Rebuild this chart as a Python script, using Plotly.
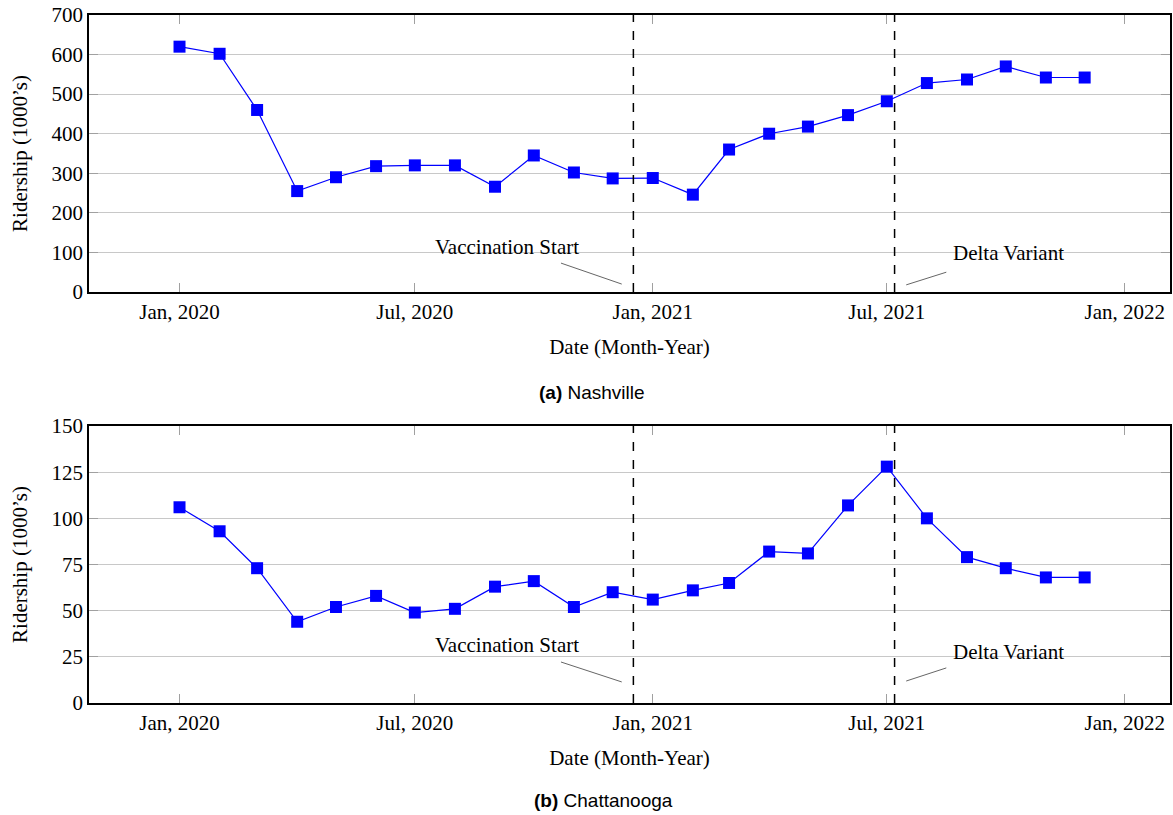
import plotly.graph_objects as go

months = [f"{y}-{m:02d}-01" for y in (2020, 2021) for m in range(1, 13)]
nashville = [620, 602, 460, 255, 290, 318, 320, 320, 266, 345, 302, 287,
             288, 246, 360, 400, 418, 447, 482, 528, 537, 570, 542, 542]
chattanooga = [106, 93, 73, 44, 52, 58, 49, 51, 63, 66, 52, 60,
               56, 61, 65, 82, 81, 107, 128, 100, 79, 73, 68, 68]

tick_vals = ["2020-01-01", "2020-07-01", "2021-01-01", "2021-07-01", "2022-01-01"]
tick_text = ["Jan, 2020", "Jul, 2020", "Jan, 2021", "Jul, 2021", "Jan, 2022"]
x_range = ["2019-10-23", "2022-02-05"]

vacc_date = "2020-12-17"
delta_date = "2021-07-07"

SERIF = "Liberation Serif, Times New Roman, serif"
SANS = "Liberation Sans, Arial, sans-serif"
BLUE = "#0000ff"

fig = go.Figure()
for vals, xa, ya in [(nashville, "x", "y"), (chattanooga, "x2", "y2")]:
    fig.add_trace(go.Scatter(
        x=months, y=vals, xaxis=xa, yaxis=ya, mode="lines+markers",
        line=dict(color=BLUE, width=1.2),
        marker=dict(symbol="square", size=12, color=BLUE),
        showlegend=False))

axis_common = dict(
    showline=True, linecolor="black", linewidth=1.5, mirror="allticks",
    ticks="inside", ticklen=9, tickcolor="#a0a0a0", tickwidth=1,
    tickfont=dict(family=SERIF, size=21, color="black"),
    zeroline=False,
)
xcommon = dict(axis_common, type="date", range=x_range, tickvals=tick_vals,
               ticktext=tick_text, showgrid=False,
               title=dict(text="Date (Month-Year)", font=dict(family=SERIF, size=21, color="black"),
                          standoff=16))
top_dom = [0.5974, 1.0]
bot_dom = [0.0, 0.4026]
ytitle = dict(text="Ridership (1000’s)", font=dict(family=SERIF, size=21, color="black"), standoff=18)

fig.update_layout(
    width=1173, height=815,
    margin=dict(l=89, r=1, t=15, b=112),
    plot_bgcolor="white", paper_bgcolor="white",
    xaxis=dict(xcommon, domain=[0, 1], anchor="y"),
    xaxis2=dict(xcommon, domain=[0, 1], anchor="y2"),
    yaxis=dict(axis_common, domain=top_dom, anchor="x", range=[0, 700],
               tickvals=[0, 100, 200, 300, 400, 500, 600, 700],
               showgrid=True, gridcolor="#c8c8c8", gridwidth=1, title=ytitle),
    yaxis2=dict(axis_common, domain=bot_dom, anchor="x2", range=[0, 150],
                tickvals=[0, 25, 50, 75, 100, 125, 150],
                showgrid=True, gridcolor="#c8c8c8", gridwidth=1, title=ytitle),
)

# event lines
for xa, ya in [("x", "y"), ("x2", "y2")]:
    for d in (vacc_date, delta_date):
        fig.add_shape(type="line", xref=xa, yref=f"{ya} domain", x0=d, x1=d, y0=0, y1=1,
                      line=dict(color="black", width=1.5, dash="dash"))

# annotations (text + connector)
ann = [
    ("x", "y", "Vaccination Start", "2020-09-10", 114, ("2020-10-22", 73), ("2020-12-08", 20)),
    ("x", "y", "Delta Variant", "2021-10-03", 99, ("2021-08-16", 50), ("2021-07-16", 18)),
    ("x2", "y2", "Vaccination Start", "2020-09-10", 31.4, ("2020-10-22", 22.2), ("2020-12-08", 11.4)),
    ("x2", "y2", "Delta Variant", "2021-10-03", 27.6, ("2021-08-16", 19), ("2021-07-16", 11.9)),
]
for xa, ya, txt, tx, ty, p0, p1 in ann:
    fig.add_annotation(xref=xa, yref=ya, x=tx, y=ty, text=txt, showarrow=False,
                       font=dict(family=SERIF, size=21, color="black"))
    fig.add_shape(type="line", xref=xa, yref=ya, x0=p0[0], y0=p0[1], x1=p1[0], y1=p1[1],
                  line=dict(color="#666666", width=1))

# captions
fig.add_annotation(xref="paper", yref="paper", x=(593 - 89) / 1084, y=(703 - 392) / 688,
                   xanchor="center", yanchor="middle",
                   text="<b>(a)</b> Nashville", showarrow=False,
                   font=dict(family=SANS, size=19, color="black"))
fig.add_annotation(xref="paper", yref="paper", x=(605 - 89) / 1084, y=(703 - 800) / 688,
                   xanchor="center", yanchor="middle",
                   text="<b>(b)</b> Chattanooga", showarrow=False,
                   font=dict(family=SANS, size=19, color="black"))

fig.write_html("out.html", config={"displayModeBar": False},
               post_script="document.body.style.margin='0';document.body.style.overflow='hidden';")
